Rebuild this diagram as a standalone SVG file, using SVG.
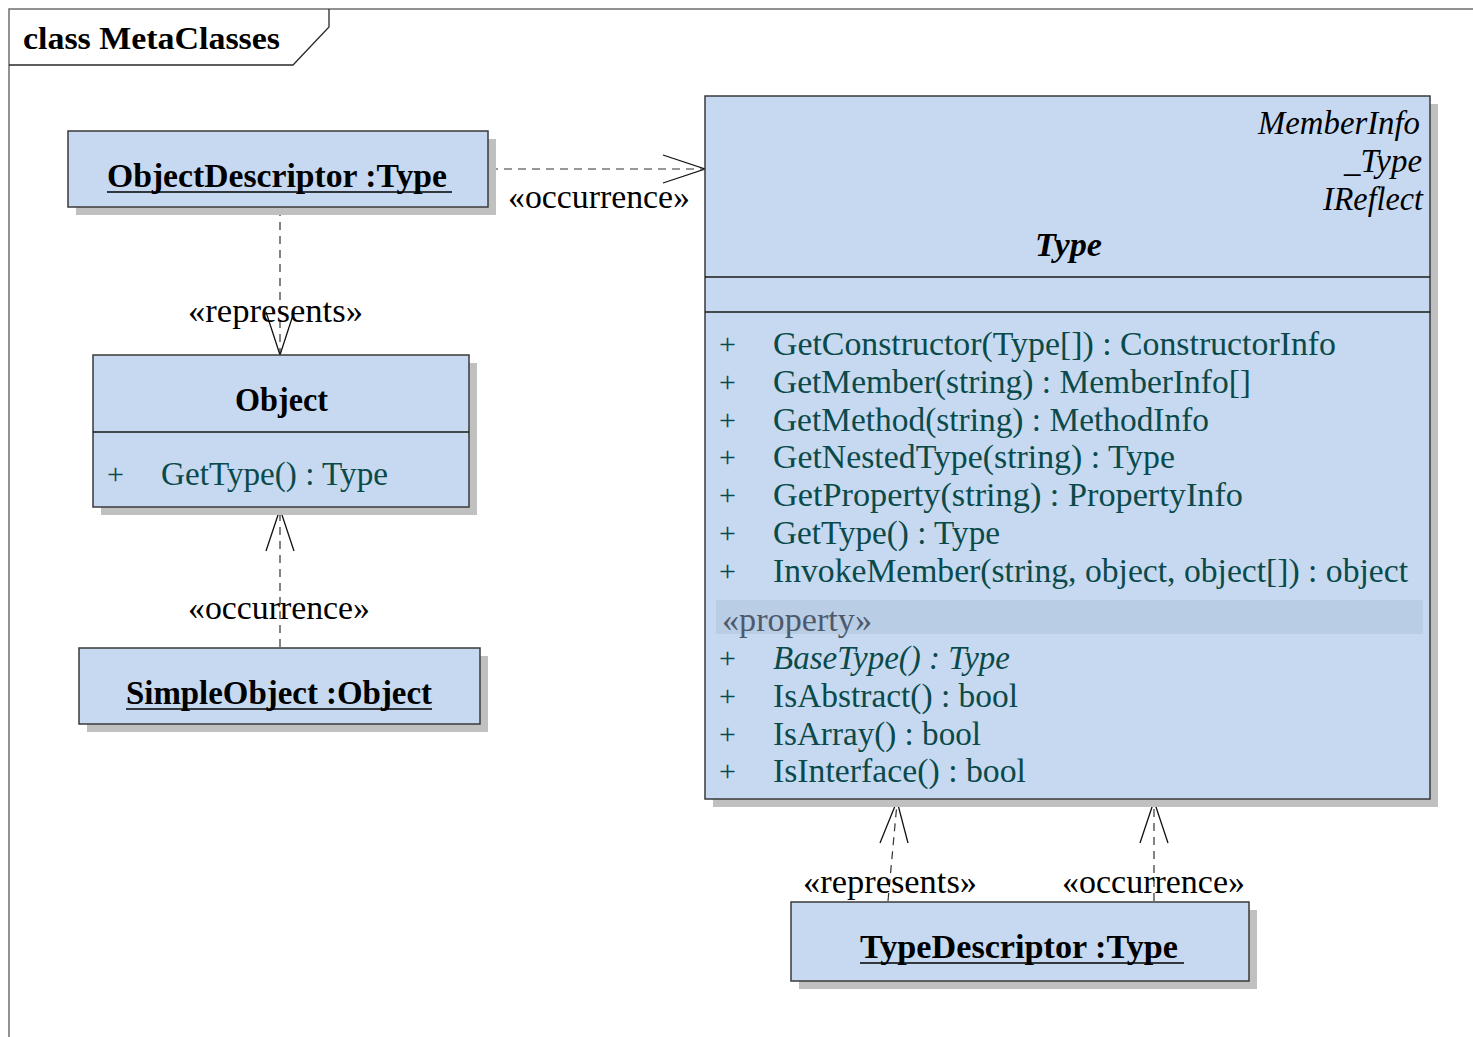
<svg xmlns="http://www.w3.org/2000/svg" width="1473" height="1037" viewBox="0 0 1473 1037">
  <style>
    text { font-family: "Liberation Serif", "Times New Roman", serif; }
    .title { font-size: 31px; font-weight: bold; fill: #000; }
    .name { font-size: 33px; font-weight: bold; fill: #000; }
    .inst { font-size: 33px; font-weight: bold; fill: #000; }
    .iface { font-size: 33px; font-style: italic; fill: #000; }
    .member { font-size: 34px; fill: #0b4a4a; }
    .vis { font-size: 30px; fill: #0b4a4a; }
    .stereo { font-size: 34px; fill: #4e5a6c; }
    .label { font-size: 33px; fill: #000; }
    .box { fill: #c6d9f0; stroke: #3a3a3a; stroke-width: 1.5; }
    .shadow { fill: #c0c0c0; }
    .divider { stroke: #1a1a1a; stroke-width: 1.5; }
    .uline { stroke: #000; stroke-width: 1.6; }
    .dep { fill: none; stroke: #333; stroke-width: 1.2; stroke-dasharray: 8 6; }
    .head { fill: none; stroke: #111; stroke-width: 1.3; }
  </style>

  <rect x="0" y="0" width="1473" height="1037" fill="#fff"/>

  <!-- diagram frame and name tab -->
  <g id="frame">
    <path d="M9,1037 V9 H1473" fill="none" stroke="#6e6e6e" stroke-width="1.5"/>
    <path d="M9,65 H293 L329,27 V9" fill="none" stroke="#2a2a2a" stroke-width="1.3"/>
    <text class="title" x="23" y="49" textLength="257" lengthAdjust="spacingAndGlyphs">class MetaClasses</text>
  </g>

  <!-- dependencies -->
  <g id="connectors">
    <!-- ObjectDescriptor -> Type -->
    <line class="dep" x1="490" y1="169" x2="703" y2="169"/>
    <path class="head" d="M663,155 L705,169 L663,183"/>
    <text class="label" x="508" y="208" textLength="182" lengthAdjust="spacingAndGlyphs">«occurrence»</text>

    <!-- ObjectDescriptor -> Object -->
    <line class="dep" x1="280" y1="208" x2="280" y2="353"/>
    <path class="head" d="M266,312 L280,355 L294,312"/>
    <text class="label" x="188" y="322" textLength="175" lengthAdjust="spacingAndGlyphs">«represents»</text>

    <!-- SimpleObject -> Object -->
    <line class="dep" x1="280" y1="647" x2="280" y2="511"/>
    <path class="head" d="M266,551 L280,509 L294,551"/>
    <text class="label" x="188" y="619" textLength="182" lengthAdjust="spacingAndGlyphs">«occurrence»</text>

    <!-- TypeDescriptor -> Type (represents) -->
    <line class="dep" x1="888" y1="901" x2="897" y2="803"/>
    <path class="head" d="M880,843 L897,801 L908,843"/>
    <text class="label" x="803" y="893" textLength="174" lengthAdjust="spacingAndGlyphs">«represents»</text>

    <!-- TypeDescriptor -> Type (occurrence) -->
    <line class="dep" x1="1154" y1="901" x2="1154" y2="803"/>
    <path class="head" d="M1140,843 L1154,801 L1168,843"/>
    <text class="label" x="1062" y="893" textLength="183" lengthAdjust="spacingAndGlyphs">«occurrence»</text>
  </g>

  <!-- ObjectDescriptor instance -->
  <g id="objectDescriptor">
    <rect class="shadow" x="76" y="139" width="420" height="76"/>
    <rect class="box" x="68" y="131" width="420" height="76"/>
    <text class="inst" x="107" y="187" textLength="340" lengthAdjust="spacingAndGlyphs">ObjectDescriptor :Type</text>
    <line class="uline" x1="107" y1="192" x2="452" y2="192"/>
  </g>

  <!-- Object class -->
  <g id="object">
    <rect class="shadow" x="101" y="363" width="376" height="152"/>
    <rect class="box" x="93" y="355" width="376" height="152"/>
    <line class="divider" x1="93" y1="432" x2="469" y2="432" stroke="#505e6e"/>
    <text class="name" x="235" y="411" textLength="93" lengthAdjust="spacingAndGlyphs">Object</text>
    <text class="vis" x="107" y="484">+</text>
    <text class="member" x="161" y="485" textLength="227" lengthAdjust="spacingAndGlyphs">GetType() : Type</text>
  </g>

  <!-- SimpleObject instance -->
  <g id="simpleObject">
    <rect class="shadow" x="87" y="656" width="401" height="76"/>
    <rect class="box" x="79" y="648" width="401" height="76"/>
    <text class="inst" x="126" y="704" textLength="306" lengthAdjust="spacingAndGlyphs">SimpleObject :Object</text>
    <line class="uline" x1="126" y1="709" x2="432" y2="709"/>
  </g>

  <!-- Type class -->
  <g id="type">
    <rect class="shadow" x="713" y="104" width="725" height="703"/>
    <rect class="box" x="705" y="96" width="725" height="703"/>
    <text class="iface" x="1420" y="134" text-anchor="end" textLength="162" lengthAdjust="spacingAndGlyphs">MemberInfo</text>
    <text class="iface" x="1422" y="172" text-anchor="end" textLength="78" lengthAdjust="spacingAndGlyphs">_Type</text>
    <text class="iface" x="1423" y="210" text-anchor="end" textLength="100" lengthAdjust="spacingAndGlyphs">IReflect</text>
    <text class="name" x="1035" y="256" font-style="italic" textLength="67" lengthAdjust="spacingAndGlyphs">Type</text>
    <line class="divider" x1="705" y1="277" x2="1430" y2="277"/>
    <line class="divider" x1="705" y1="312" x2="1430" y2="312"/>

    <text class="vis" x="719" y="354">+</text>
    <text class="member" x="773" y="355" textLength="563" lengthAdjust="spacingAndGlyphs">GetConstructor(Type[]) : ConstructorInfo</text>
    <text class="vis" x="719" y="392">+</text>
    <text class="member" x="773" y="393" textLength="478" lengthAdjust="spacingAndGlyphs">GetMember(string) : MemberInfo[]</text>
    <text class="vis" x="719" y="430">+</text>
    <text class="member" x="773" y="431" textLength="436" lengthAdjust="spacingAndGlyphs">GetMethod(string) : MethodInfo</text>
    <text class="vis" x="719" y="467">+</text>
    <text class="member" x="773" y="468" textLength="402" lengthAdjust="spacingAndGlyphs">GetNestedType(string) : Type</text>
    <text class="vis" x="719" y="505">+</text>
    <text class="member" x="773" y="506" textLength="470" lengthAdjust="spacingAndGlyphs">GetProperty(string) : PropertyInfo</text>
    <text class="vis" x="719" y="543">+</text>
    <text class="member" x="773" y="544" textLength="227" lengthAdjust="spacingAndGlyphs">GetType() : Type</text>
    <text class="vis" x="719" y="581">+</text>
    <text class="member" x="773" y="582" textLength="635" lengthAdjust="spacingAndGlyphs">InvokeMember(string, object, object[]) : object</text>

    <rect x="716" y="600" width="707" height="34" fill="#b9cde5"/>
    <text class="stereo" x="722" y="631" textLength="150" lengthAdjust="spacingAndGlyphs">«property»</text>

    <text class="vis" x="719" y="668">+</text>
    <text class="member" x="773" y="669" font-style="italic" textLength="237" lengthAdjust="spacingAndGlyphs">BaseType() : Type</text>
    <text class="vis" x="719" y="706">+</text>
    <text class="member" x="773" y="707" textLength="245" lengthAdjust="spacingAndGlyphs">IsAbstract() : bool</text>
    <text class="vis" x="719" y="744">+</text>
    <text class="member" x="773" y="745" textLength="208" lengthAdjust="spacingAndGlyphs">IsArray() : bool</text>
    <text class="vis" x="719" y="781">+</text>
    <text class="member" x="773" y="782" textLength="253" lengthAdjust="spacingAndGlyphs">IsInterface() : bool</text>
  </g>

  <!-- TypeDescriptor instance -->
  <g id="typeDescriptor">
    <rect class="shadow" x="799" y="910" width="458" height="79"/>
    <rect class="box" x="791" y="902" width="458" height="79"/>
    <text class="inst" x="860" y="958" textLength="318" lengthAdjust="spacingAndGlyphs">TypeDescriptor :Type</text>
    <line class="uline" x1="860" y1="963" x2="1184" y2="963"/>
  </g>
</svg>
